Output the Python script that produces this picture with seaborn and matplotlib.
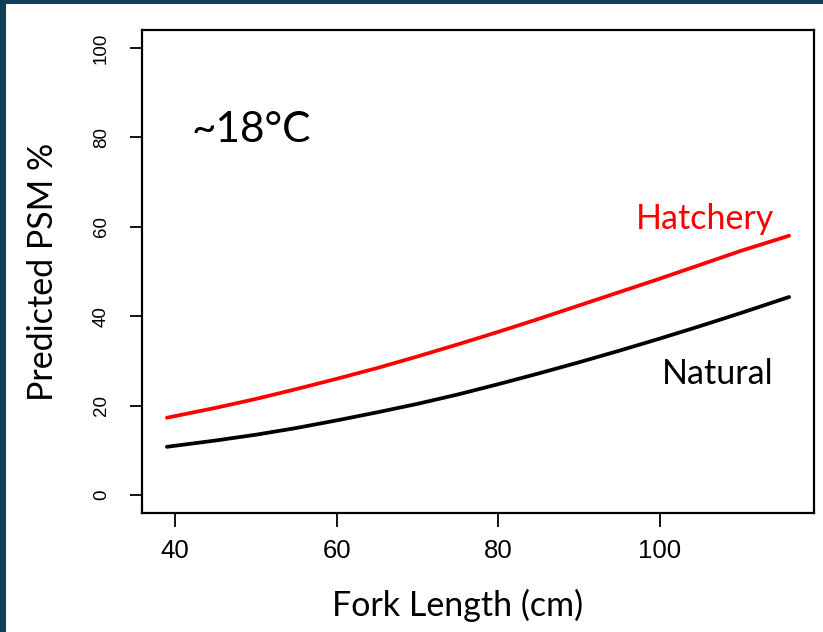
import matplotlib
matplotlib.use("Agg")
import matplotlib.pyplot as plt
import seaborn as sns
import pandas as pd
from matplotlib.patches import Rectangle

# Data
fork_length = [39, 45, 50, 55, 60, 65, 70, 75, 80, 85, 90, 95, 100, 105, 110, 116]
hatchery = [17.3, 19.5, 21.5, 23.7, 26.0, 28.4, 31.0, 33.7, 36.5, 39.4, 42.4,
            45.4, 48.4, 51.5, 54.6, 58.0]
natural = [10.8, 12.2, 13.5, 15.0, 16.7, 18.5, 20.4, 22.5, 24.8, 27.2, 29.7,
           32.3, 35.0, 37.8, 40.7, 44.3]
x_ticks = [40, 60, 80, 100]
y_ticks = [0, 20, 40, 60, 80, 100]

df = pd.DataFrame({
    "Fork Length": fork_length * 2,
    "PSM": hatchery + natural,
    "Origin": ["Hatchery"] * len(fork_length) + ["Natural"] * len(fork_length),
})

sns.set_theme(style="white")
plt.rcParams["font.family"] = ["Lato", "DejaVu Sans"]

W, H = 823, 632
fig = plt.figure(figsize=(W / 100, H / 100), dpi=100)
fig.patch.set_facecolor("#123f58")
fig.add_artist(Rectangle((6 / W, 0), 1, 1 - 4 / H, transform=fig.transFigure,
                         facecolor="white", edgecolor="none", zorder=0))

ax = fig.add_axes([142 / W, 1 - 513 / H, (814 - 142) / W, (513 - 30) / H])
ax.set_facecolor("white")

sns.lineplot(data=df, x="Fork Length", y="PSM", hue="Origin",
             palette={"Hatchery": "#ff0000", "Natural": "#000000"},
             linewidth=2.7, legend=False, ax=ax)

ax.set_xlim(35.92, 119.08)
ax.set_ylim(-4, 104)
ax.set_xticks(x_ticks)
ax.set_yticks(y_ticks)

ax.tick_params(axis="x", direction="out", length=10, width=1.3, pad=9,
               colors="black", bottom=True)
ax.tick_params(axis="y", direction="out", length=9, width=1.3, pad=14,
               colors="black", left=True)

ax.set_xticklabels([str(t) for t in x_ticks])
ax.set_yticklabels([str(t) for t in y_ticks])
for lab in ax.get_xticklabels():
    lab.set_fontfamily(["Liberation Sans", "DejaVu Sans"])
    lab.set_fontsize(18.5)
for lab in ax.get_yticklabels():
    lab.set_fontfamily(["Liberation Sans", "DejaVu Sans"])
    lab.set_fontsize(13.5)
    lab.set_rotation(90)
    lab.set_va("center")

for sp in ax.spines.values():
    sp.set_visible(True)
    sp.set_color("black")
    sp.set_linewidth(1.6)

ax.set_xlabel("Fork Length (cm)", fontsize=24.5, color="black")
ax.set_ylabel("Predicted PSM %", fontsize=24.5, color="black")
ax.xaxis.set_label_coords((458 - 142) / 672, (513 - 605) / 483)
ax.yaxis.set_label_coords((43 - 142) / 672, (513 - 272) / 483)
ax.xaxis.label.set_va("center")
ax.yaxis.label.set_va("center")

ax.text(42.0, 81.6, "~18°C", fontsize=30.5, color="black", ha="left", va="center")
ax.text(105.6, 61.7, "Hatchery", fontsize=24.5, color="#ff0000", ha="center", va="center")
ax.text(107.2, 27.0, "Natural", fontsize=24.5, color="black", ha="center", va="center")

fig.savefig("out.png", dpi=100, facecolor=fig.get_facecolor())
